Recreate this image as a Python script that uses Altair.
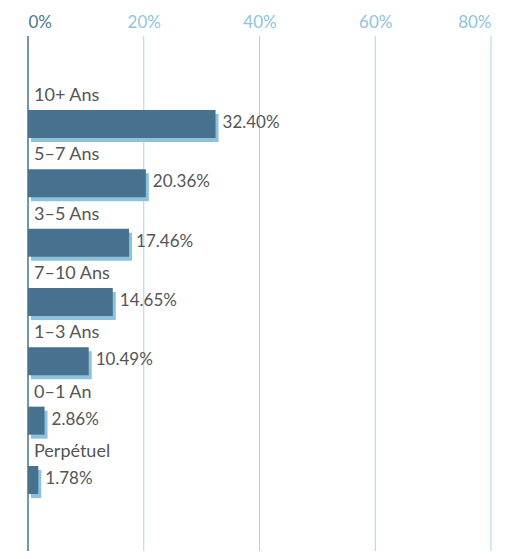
import altair as alt
import pandas as pd

categories = ["10+ Ans", "5–7 Ans", "3–5 Ans", "7–10 Ans", "1–3 Ans", "0–1 An", "Perpétuel"]
values = [32.40, 20.36, 17.46, 14.65, 10.49, 2.86, 1.78]
tick_values = [0, 20, 40, 60, 80]

df = pd.DataFrame({"cat": categories, "val": values})
df["lbl"] = [f"{v:.2f}%" for v in values]

DARK = "#47728f"
LIGHT = "#8cc3db"
GRID = "#a9d4e4"
FONT = "Lato"
XS = alt.Scale(domain=[0, 80], nice=False)

x = alt.X("val:Q", scale=XS,
          axis=alt.Axis(orient="top", values=tick_values, labelExpr="datum.value + '%'",
                        title=None, ticks=False, domain=False, grid=False,
                        labelFontSize=17, labelFont=FONT, labelPadding=5,
                        labelColor={"expr": "datum.value == 0 ? '#4b7694' : '#8fc4dc'"}))
y = alt.Y("cat:N", sort=categories,
          scale=alt.Scale(paddingInner=0.528, paddingOuter=0, range=[74, 458]),
          axis=alt.Axis(title=None, labels=False, ticks=False, domain=False, grid=False))

base = alt.Chart(df)

grid = alt.Chart(pd.DataFrame({"t": tick_values[1:]})).mark_rule(color=GRID, strokeWidth=1).encode(
    x=alt.X("t:Q", scale=XS), y=alt.value(0), y2=alt.value(515))
zero_line = alt.Chart(pd.DataFrame({"z": [0]})).mark_rule(color=DARK, strokeWidth=1.5).encode(
    x=alt.X("z:Q", scale=XS), y=alt.value(0), y2=alt.value(515))
shadow = base.mark_bar(color=LIGHT, xOffset=3, yOffset=4, y2Offset=4).encode(x=x, y=y)
bars = base.mark_bar(color=DARK).encode(x=x, y=y)
cat_text = base.mark_text(align="left", baseline="alphabetic", dx=6, dy=-23,
                          fontSize=18, font=FONT, color="#555555").encode(
    x=alt.X("zero:Q", scale=XS),
    y=y, text="cat:N").transform_calculate(zero="0")
val_text = base.mark_text(align="left", baseline="middle", dx=7, dy=-1,
                          fontSize=17, font=FONT, color="#555555").encode(
    x=x, y=y, text="lbl:N")

chart = alt.layer(grid, shadow, bars, zero_line, cat_text, val_text).properties(
    width=463, height=515,
    autosize=alt.AutoSizeParams(type="none"),
    padding={"left": 20, "top": 28, "right": 18, "bottom": 0},
).configure_view(stroke=None)

chart.save("out.html", embed_options={"renderer": "svg", "actions": False})
